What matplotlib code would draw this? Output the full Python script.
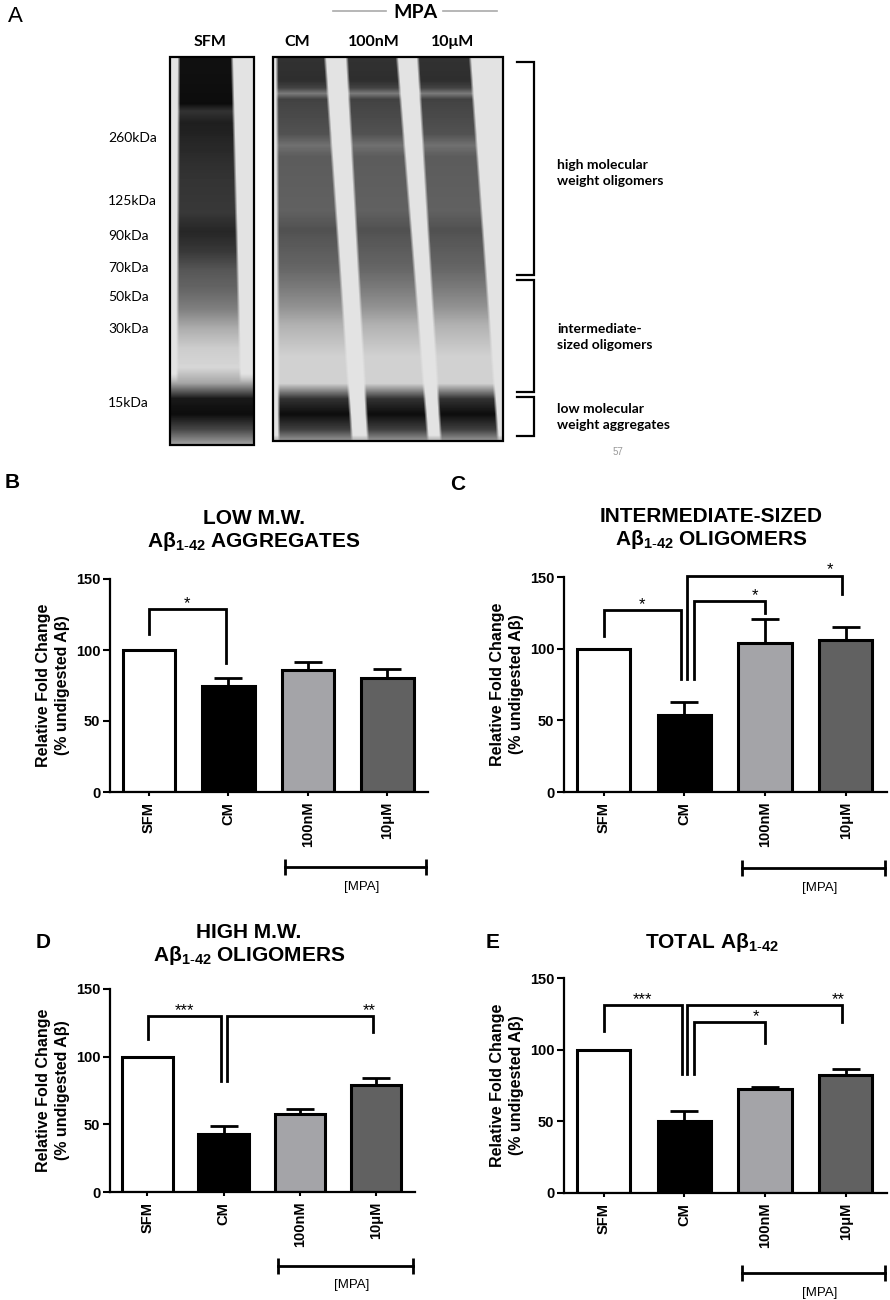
import matplotlib
matplotlib.use("Agg")
import matplotlib.pyplot as plt
import numpy as np
from matplotlib.patches import Rectangle

plt.rcParams["font.family"] = ["Liberation Sans", "DejaVu Sans"]
plt.rcParams["mathtext.fontset"] = "custom"
plt.rcParams["mathtext.rm"] = "Liberation Sans"
plt.rcParams["mathtext.bf"] = "Liberation Sans:bold"
plt.rcParams["mathtext.it"] = "Liberation Sans:italic"

W, H = 890, 1300

# ---- data -----------------------------------------------------------------
CATEGORIES = ["SFM", "CM", "100nM", "10μM"]
BAR_COLORS = ["white", "black", "#a4a4a8", "#616161"]
Y_TICKS = [0, 50, 100, 150]

LOW_MW_MEAN = [100, 74.5, 85.8, 80.6]
LOW_MW_SEM = [0, 5.5, 5.7, 5.7]
INTER_MEAN = [100, 53.5, 104.2, 106.3]
INTER_SEM = [0, 9.1, 16.7, 9.0]
HIGH_MW_MEAN = [100, 42.8, 57.5, 78.7]
HIGH_MW_SEM = [0, 6.1, 3.5, 5.4]
TOTAL_MEAN = [100, 50.4, 72.5, 82.6]
TOTAL_SEM = [0, 7.0, 1.2, 3.7]

# significance: (stars, x left leg, x right leg, bracket top, left leg end, right leg end, star x)
LOW_MW_SIG = [("*", 0.0, 0.97, 129, 111, 90.5, 0.48)]
INTER_SIG = [("*", 0.0, 0.96, 127, 109, 79, 0.48),
             ("*", 1.12, 2.0, 133, 79, 125, 1.88),
             ("*", 1.03, 2.95, 151, 79, 138, 2.80)]
HIGH_MW_SIG = [("***", 0.01, 0.97, 130, 113, 82, 0.49),
               ("**", 1.04, 2.96, 130, 82, 118, 2.91)]
TOTAL_SIG = [("***", 0.0, 0.97, 131, 113, 83, 0.48),
             ("**", 1.03, 2.95, 131, 83, 119, 2.91),
             ("*", 1.12, 2.0, 119, 83, 104.5, 1.89)]

# western blot (panel A)
BLOT_LANES = ["SFM", "CM", "100nM", "10μM"]
MW_MARKERS = ["260kDa", "125kDa", "90kDa", "70kDa", "50kDa", "30kDa", "15kDa"]
MW_MARKER_Y = [138, 201, 236, 268, 297, 329, 403]
# darkness profile down the lanes (fraction of blot height, darkness 0..1)
SFM_PROFILE_F = [0.0, 0.12, 0.14, 0.17, 0.30, 0.40, 0.45, 0.50, 0.55, 0.60,
                 0.65, 0.70, 0.75, 0.80, 0.84, 0.88, 0.92, 0.96, 1.0]
SFM_PROFILE_D = [0.93, 0.95, 0.80, 0.88, 0.80, 0.78, 0.85, 0.78, 0.66, 0.60,
                 0.50, 0.32, 0.20, 0.16, 0.35, 0.90, 0.95, 0.72, 0.35]
MPA_PROFILE_F = [0.0, 0.06, 0.08, 0.095, 0.11, 0.20, 0.23, 0.26, 0.40, 0.45,
                 0.55, 0.60, 0.65, 0.70, 0.78, 0.85, 0.89, 0.93, 0.97, 1.0]
MPA_PROFILE_D = [0.80, 0.82, 0.74, 0.52, 0.74, 0.68, 0.56, 0.64, 0.62, 0.68,
                 0.60, 0.52, 0.43, 0.30, 0.18, 0.18, 0.80, 0.95, 0.75, 0.40]
# light gaps between lanes: ((left, right) at top, (left, right) at bottom), in blot pixels
SFM_GAPS = [((0, 9), (0, 7)), ((62, 84), (72, 84))]
MPA_GAPS = [((0, 4), (0, 6)), ((52, 74), (79, 95)),
            ((124, 145), (155, 168)), ((197, 230), (225, 230))]


def px_rect(left, right, top, bottom):
    return [left / W, 1 - bottom / H, (right - left) / W, (bottom - top) / H]


def blot_image(width, height, knots_f, knots_d, gaps, gap_end):
    yy, xx = np.mgrid[0:height, 0:width] + 0.5
    f = yy / height
    lane = np.interp(f, knots_f, knots_d)
    light = np.full_like(lane, 0.11)
    keep = np.ones_like(lane)
    for (tl, tr), (bl, br) in gaps:
        left = tl + (bl - tl) * f
        right = tr + (br - tr) * f
        inside = np.clip((xx - left) / 3 + 0.5, 0, 1) * np.clip((right - xx) / 3 + 0.5, 0, 1)
        inside = inside * np.clip((gap_end - f) * 40, 0, 1)
        keep = keep * (1 - inside)
    return light + (lane - light) * keep


def bar_panel(rect, mean, sem, sig, mpa_y):
    ax = fig.add_axes(rect)
    ax.set_facecolor("none")
    x = np.arange(len(CATEGORIES))
    ax.errorbar(x[1:], mean[1:], yerr=[np.zeros(3), sem[1:]], fmt="none",
                ecolor="black", elinewidth=2, capsize=10, capthick=2, zorder=1)
    ax.bar(x, mean, width=0.66, color=BAR_COLORS, edgecolor="black",
           linewidth=2.2, zorder=2)
    ax.set_xlim(-0.49, 3.51)
    ax.set_ylim(0, 150)
    ax.set_yticks(Y_TICKS)
    ax.set_yticklabels([str(t) for t in Y_TICKS], fontsize=10.5, fontweight="bold")
    ax.set_xticks(x)
    ax.set_xticklabels(CATEGORIES, rotation=90, fontsize=10.5, fontweight="bold")
    ax.tick_params(axis="y", length=5, width=1.5, pad=2)
    ax.tick_params(axis="x", length=3, width=1.5, pad=4)
    for side in ("top", "right"):
        ax.spines[side].set_visible(False)
    for side in ("left", "bottom"):
        ax.spines[side].set_linewidth(1.6)
    ax.set_ylabel("Relative Fold Change\n(% undigested Aβ)", fontsize=11.5,
                  fontweight="bold", linespacing=1.35, labelpad=4)
    for stars, xl, xr, top, yl, yr, sx in sig:
        ax.plot([xl, xl, xr, xr], [yl, top, top, yr], color="black", lw=2,
                clip_on=False, solid_joinstyle="miter", zorder=3)
        ax.text(sx, top + 4, stars, ha="center", va="center", fontsize=12)
    ax.plot([1.71, 3.49], [mpa_y, mpa_y], color="black", lw=2, marker="|",
            markersize=12, markeredgewidth=2, clip_on=False)
    ax.text(2.68, mpa_y - 14, "[MPA]", ha="center", va="center", fontsize=9.5)
    return ax


fig = plt.figure(figsize=(W / 100, H / 100), dpi=100)

# overlay in pixel coordinates for panel A and titles
ov = fig.add_axes([0, 0, 1, 1])
ov.set_xlim(0, W)
ov.set_ylim(H, 0)
ov.axis("off")

sfm_img = blot_image(84, 388, SFM_PROFILE_F, SFM_PROFILE_D, SFM_GAPS, 0.84)
mpa_img = blot_image(230, 384, MPA_PROFILE_F, MPA_PROFILE_D, MPA_GAPS, 1.01)
ov.imshow(sfm_img, cmap="gray_r", vmin=0, vmax=1, extent=(170, 254, 445, 57),
          aspect="auto", interpolation="bilinear")
ov.imshow(mpa_img, cmap="gray_r", vmin=0, vmax=1, extent=(273, 503, 441, 57),
          aspect="auto", interpolation="bilinear")
ov.add_patch(Rectangle((170, 57), 84, 388, fill=False, lw=1.6, ec="black"))
ov.add_patch(Rectangle((273, 57), 230, 384, fill=False, lw=1.6, ec="black"))
ov.set_xlim(0, W)
ov.set_ylim(H, 0)

ov.text(15, 17, "A", fontsize=16, ha="center", va="center")
for name, xc in zip(BLOT_LANES, [210, 297, 374, 453]):
    ov.text(xc, 42, name, family=["Lato", "DejaVu Sans"], fontweight="bold",
            fontsize=11.5, ha="center", va="center")
ov.text(415, 13, "MPA", family=["Lato", "DejaVu Sans"], fontweight="bold",
        fontsize=14, ha="center", va="center")
ov.plot([333, 386], [11, 11], color="#aaaaaa", lw=1.2)
ov.plot([443, 497], [11, 11], color="#aaaaaa", lw=1.2)
for label, yv in zip(MW_MARKERS, MW_MARKER_Y):
    ov.text(108, yv, label, family=["Lato", "DejaVu Sans"], fontsize=10,
            ha="left", va="center")

for top, bottom in [(62, 275), (280, 392), (397, 436)]:
    ov.plot([517, 534, 534, 517], [top, top, bottom, bottom], color="black",
            lw=1.6, solid_joinstyle="miter")
for text, yc in [("high molecular\nweight oligomers", 173),
                 ("intermediate-\nsized oligomers", 337),
                 ("low molecular\nweight aggregates", 417)]:
    ov.text(557, yc, text, family=["Lato", "DejaVu Sans"], fontweight="bold",
            fontsize=10, ha="left", va="center", linespacing=1.35)
ov.text(618, 452, "57", fontsize=7, color="#999999", ha="center", va="center")

# panel letters and titles
for letter, xc, yc in [("B", 12, 483), ("C", 458, 484), ("D", 43, 942), ("E", 493, 942)]:
    ov.text(xc, yc, letter, fontsize=15, fontweight="bold", ha="center", va="center")

sub = r"$_{\mathbf{1\text{-}42}}$"
title_kw = dict(fontsize=15, fontweight="bold", ha="center", va="center",
                linespacing=1.15)
ov.text(254, 531, "LOW M.W.\nAβ" + sub + " AGGREGATES", **title_kw)
ov.text(711, 529, "INTERMEDIATE-SIZED\nAβ" + sub + " OLIGOMERS", **title_kw)
ov.text(249, 945, "HIGH M.W.\nAβ" + sub + " OLIGOMERS", **title_kw)
ov.text(712, 943, "TOTAL Aβ" + sub, **title_kw)

bar_panel(px_rect(110, 428, 579, 792), LOW_MW_MEAN, LOW_MW_SEM, LOW_MW_SIG, -53)
bar_panel(px_rect(564, 887, 577, 792), INTER_MEAN, INTER_SEM, INTER_SIG, -53)
bar_panel(px_rect(110, 415, 989, 1192), HIGH_MW_MEAN, HIGH_MW_SEM, HIGH_MW_SIG, -55)
bar_panel(px_rect(564, 887, 978, 1193), TOTAL_MEAN, TOTAL_SEM, TOTAL_SIG, -55.5)

fig.savefig("out.png", dpi=100)
